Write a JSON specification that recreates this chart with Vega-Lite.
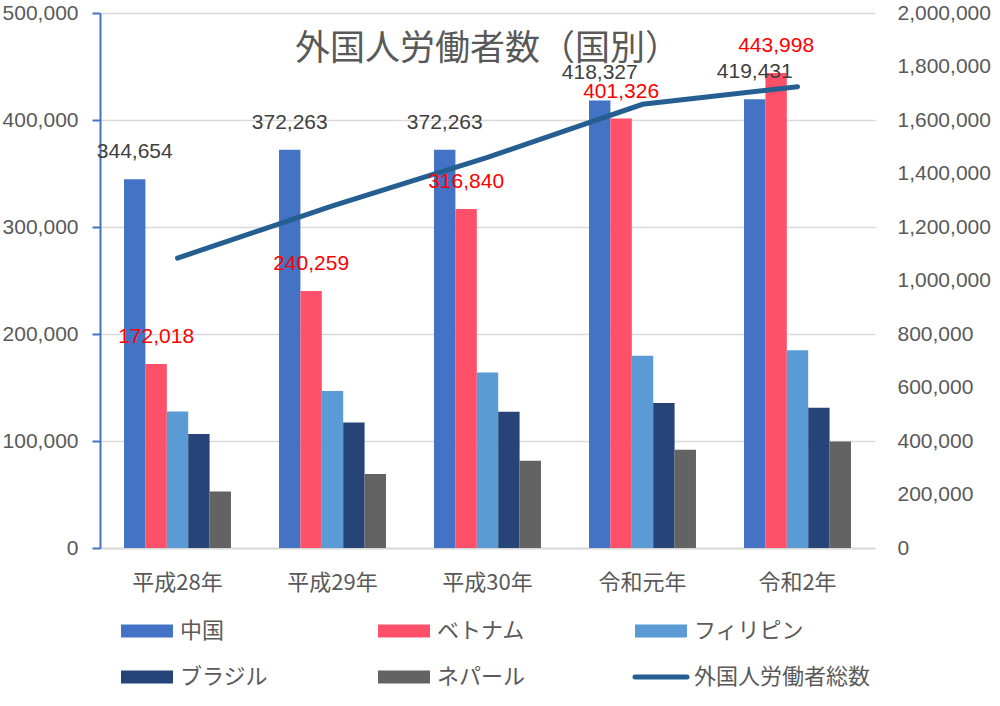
{
  "$schema": "https://vega.github.io/schema/vega-lite/v6.json",
  "width": 775,
  "height": 535,
  "autosize": {"type": "none"},
  "padding": {"left": 100, "top": 13, "right": 125, "bottom": 158},
  "background": "white",
  "title": {
    "text": "外国人労働者数（国別）",
    "font": "Noto Sans CJK JP",
    "fontSize": 35,
    "fontWeight": "normal",
    "color": "#595959",
    "anchor": "middle",
    "offset": -65
  },
  "datasets": {
    "bars": [
      {"year": "平成28年", "country": "中国", "value": 344654},
      {"year": "平成28年", "country": "ベトナム", "value": 172018},
      {"year": "平成28年", "country": "フィリピン", "value": 127518},
      {"year": "平成28年", "country": "ブラジル", "value": 106597},
      {"year": "平成28年", "country": "ネパール", "value": 52770},
      {"year": "平成29年", "country": "中国", "value": 372263},
      {"year": "平成29年", "country": "ベトナム", "value": 240259},
      {"year": "平成29年", "country": "フィリピン", "value": 146798},
      {"year": "平成29年", "country": "ブラジル", "value": 117299},
      {"year": "平成29年", "country": "ネパール", "value": 69111},
      {"year": "平成30年", "country": "中国", "value": 372263},
      {"year": "平成30年", "country": "ベトナム", "value": 316840},
      {"year": "平成30年", "country": "フィリピン", "value": 164006},
      {"year": "平成30年", "country": "ブラジル", "value": 127392},
      {"year": "平成30年", "country": "ネパール", "value": 81562},
      {"year": "令和元年", "country": "中国", "value": 418327},
      {"year": "令和元年", "country": "ベトナム", "value": 401326},
      {"year": "令和元年", "country": "フィリピン", "value": 179685},
      {"year": "令和元年", "country": "ブラジル", "value": 135455},
      {"year": "令和元年", "country": "ネパール", "value": 91770},
      {"year": "令和2年", "country": "中国", "value": 419431},
      {"year": "令和2年", "country": "ベトナム", "value": 443998},
      {"year": "令和2年", "country": "フィリピン", "value": 184750},
      {"year": "令和2年", "country": "ブラジル", "value": 131112},
      {"year": "令和2年", "country": "ネパール", "value": 99628}
    ],
    "totals": [
      {"year": "平成28年", "total": 1083769},
      {"year": "平成29年", "total": 1278670},
      {"year": "平成30年", "total": 1460463},
      {"year": "令和元年", "total": 1658804},
      {"year": "令和2年", "total": 1724328}
    ]
  },
  "layer": [
    {
      "data": {"name": "bars"},
      "mark": {"type": "bar"},
      "encoding": {
        "x": {
          "field": "year",
          "type": "nominal",
          "scale": {"domain": ["平成28年", "平成29年", "平成30年", "令和元年", "令和2年"], "paddingInner": 0.31, "paddingOuter": 0.155},
          "axis": {
            "title": null,
            "labelAngle": 0,
            "labelFont": "Noto Sans CJK JP",
            "labelFontSize": 22,
            "labelColor": "#595959",
            "labelPadding": 24,
            "ticks": false,
            "domainColor": "#D9D9D9",
            "domainWidth": 2,
            "grid": false
          }
        },
        "xOffset": {
          "field": "country",
          "type": "nominal",
          "scale": {"domain": ["中国", "ベトナム", "フィリピン", "ブラジル", "ネパール"], "paddingInner": 0, "paddingOuter": 0}
        },
        "y": {
          "field": "value",
          "type": "quantitative",
          "scale": {"domain": [0, 500000], "nice": false},
          "axis": {
            "title": null,
            "values": [0, 100000, 200000, 300000, 400000, 500000],
            "format": ",d",
            "grid": true,
            "gridColor": "#D9D9D9",
            "gridWidth": 1.5,
            "domainColor": "#4472C4",
            "domainWidth": 2,
            "tickColor": "#4472C4",
            "tickWidth": 2,
            "tickSize": 8,
            "labelFont": "Liberation Sans",
            "labelFontSize": 21,
            "labelColor": "#595959",
            "labelPadding": 14
          }
        },
        "color": {
          "field": "country",
          "type": "nominal",
          "scale": {
            "domain": ["中国", "ベトナム", "フィリピン", "ブラジル", "ネパール", "外国人労働者総数"],
            "range": ["#4472C4", "#FF5069", "#5B9BD5", "#264478", "#636363", "#255E91"]
          },
          "legend": {
            "title": null,
            "orient": "none",
            "direction": "horizontal",
            "legendX": 36,
            "legendY": 607,
            "columns": 3,
            "gridAlign": "all",
            "columnPadding": 11,
            "rowPadding": 24,
            "padding": 0,
            "labelOffset": 22,
            "labelLimit": 300,
            "labelFont": "Noto Sans CJK JP",
            "labelFontSize": 22,
            "labelColor": "#595959",
            "symbolSize": 2704,
            "symbolStrokeWidth": 0,
            "symbolType": "M-1,-0.25H1V0.25H-1Z",
            "encode": {
              "symbols": {
                "update": {
                  "shape": {"signal": "datum.value === '外国人労働者総数' ? 'stroke' : 'M-1,-0.25H1V0.25H-1Z'"},
                  "strokeWidth": {"signal": "datum.value === '外国人労働者総数' ? 5 : 0"},
                  "stroke": {"signal": "scale('color', datum.value)"},
                  "strokeCap": {"value": "round"},
                  "opacity": {"value": 1}
                }
              }
            }
          }
        }
      }
    },
    {
      "data": {"name": "totals"},
      "mark": {"type": "line", "color": "#255E91", "strokeWidth": 5, "strokeCap": "round"},
      "encoding": {
        "x": {"field": "year", "type": "nominal"},
        "y": {
          "field": "total",
          "type": "quantitative",
          "scale": {"domain": [0, 2000000], "nice": false},
          "axis": {
            "orient": "right",
            "title": null,
            "values": [0, 200000, 400000, 600000, 800000, 1000000, 1200000, 1400000, 1600000, 1800000, 2000000],
            "format": ",d",
            "grid": false,
            "domain": false,
            "ticks": false,
            "labelFont": "Liberation Sans",
            "labelFontSize": 21,
            "labelColor": "#595959",
            "labelPadding": 22
          }
        }
      }
    },
    {
      "data": {"name": "bars"},
      "transform": [{"filter": "datum.country === '中国' || datum.country === 'ベトナム'"}],
      "mark": {"type": "text", "font": "Liberation Sans", "fontSize": 21, "baseline": "middle", "dy": -27},
      "encoding": {
        "x": {"field": "year", "type": "nominal"},
        "xOffset": {"field": "country", "type": "nominal"},
        "y": {"field": "value", "type": "quantitative", "scale": {"domain": [0, 500000], "nice": false}, "axis": null},
        "text": {"field": "value", "type": "quantitative", "format": ",d"},
        "color": {"condition": {"test": "datum.country === 'ベトナム'", "value": "#FF0000"}, "value": "#404040"}
      }
    }
  ],
  "resolve": {"scale": {"y": "independent"}},
  "config": {"view": {"stroke": null}}
}
